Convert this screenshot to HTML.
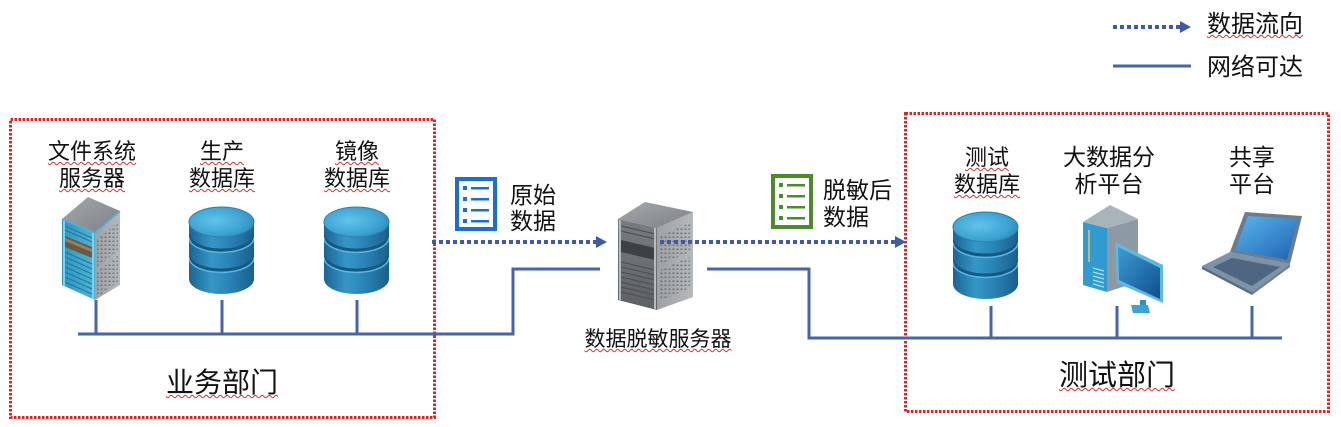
<!DOCTYPE html>
<html><head><meta charset="utf-8">
<style>
html,body{margin:0;padding:0;background:#fff;}
#wrap{position:relative;width:1341px;height:427px;overflow:hidden;background:#fff;}
svg{position:absolute;left:0;top:0;}
.t{position:absolute;font-family:"Liberation Sans","Noto Sans CJK SC",sans-serif;color:#111;white-space:nowrap;}
.c{text-align:center;width:200px;}
.w{text-decoration:underline wavy #d83030;text-decoration-thickness:1px;text-underline-offset:2px;}
</style></head><body>
<div id="wrap">
<svg width="1341" height="427" viewBox="0 0 1341 427" xmlns="http://www.w3.org/2000/svg">
<defs>
  <linearGradient id="dbBody" x1="0" x2="1" y1="0" y2="0">
    <stop offset="0" stop-color="#1b6596"/>
    <stop offset="0.35" stop-color="#3597c6"/>
    <stop offset="0.6" stop-color="#2a86b8"/>
    <stop offset="1" stop-color="#1a5f8e"/>
  </linearGradient>
  <radialGradient id="dbTop" cx="0.4" cy="0.45" r="0.7">
    <stop offset="0" stop-color="#62c4ec"/>
    <stop offset="0.7" stop-color="#3aa0d0"/>
    <stop offset="1" stop-color="#2780b2"/>
  </radialGradient>
  <linearGradient id="grayTop" x1="0" x2="1" y1="0" y2="1">
    <stop offset="0" stop-color="#a4a8ac"/>
    <stop offset="1" stop-color="#7e8286"/>
  </linearGradient>
  <linearGradient id="grayL" x1="0" x2="0" y1="0" y2="1">
    <stop offset="0" stop-color="#7a7d80"/>
    <stop offset="1" stop-color="#5e6164"/>
  </linearGradient>
  <linearGradient id="grayR" x1="0" x2="1" y1="0" y2="0">
    <stop offset="0" stop-color="#9ea1a4"/>
    <stop offset="1" stop-color="#b6b9bc"/>
  </linearGradient>
  <linearGradient id="teal" x1="0" x2="1" y1="0" y2="0">
    <stop offset="0" stop-color="#2f95bd"/>
    <stop offset="1" stop-color="#4fb4d6"/>
  </linearGradient>
  <linearGradient id="scr" x1="0" x2="1" y1="0" y2="1">
    <stop offset="0" stop-color="#5ab6ee"/>
    <stop offset="1" stop-color="#1d62b0"/>
  </linearGradient>
  <linearGradient id="mon" x1="0" x2="1" y1="0" y2="1">
    <stop offset="0" stop-color="#3f9bd2"/>
    <stop offset="1" stop-color="#0f4f8e"/>
  </linearGradient>
  <pattern id="grill" width="4" height="4" patternUnits="userSpaceOnUse">
    <rect width="4" height="4" fill="none"/>
    <rect x="0.5" y="0.5" width="2" height="1.6" fill="#5a5e62" opacity="0.7"/>
  </pattern>
  <clipPath id="dbclip"><path d="M189,222 L189,279 A32.5,15 0 0 0 254,279 L254,222 Z"/></clipPath>
</defs>

<!-- red dotted boxes -->
<rect x="10.5" y="119.5" width="424" height="298" fill="none" stroke="#e02424" stroke-width="3" stroke-dasharray="2.5 1.5"/>
<rect x="905.5" y="113.5" width="423" height="298" fill="none" stroke="#e02424" stroke-width="3" stroke-dasharray="2.5 1.5"/>

<!-- network lines -->
<g stroke="#4565a6" stroke-width="3" fill="none">
  <polyline points="78,334 513,334 513,269 600,269"/>
  <line x1="96" y1="300" x2="96" y2="334"/>
  <line x1="222" y1="300" x2="222" y2="334"/>
  <line x1="357" y1="300" x2="357" y2="334"/>
  <polyline points="707,269 809,269 809,338 1282,338"/>
  <line x1="991" y1="306" x2="991" y2="338"/>
  <line x1="1117" y1="306" x2="1117" y2="338"/>
  <line x1="1252" y1="306" x2="1252" y2="338"/>
  <line x1="1113" y1="66" x2="1191" y2="66"/>
</g>

<!-- doc icons -->
<g>
  <rect x="457" y="179" width="38" height="50" fill="#fff" stroke="#1a6ed8" stroke-width="4"/>
  <g fill="#1a6ed8">
    <rect x="463" y="186" width="4" height="4"/><rect x="471" y="187" width="18" height="2.5"/>
    <rect x="463" y="197" width="4" height="4"/><rect x="471" y="198" width="18" height="2.5"/>
    <rect x="463" y="208" width="4" height="4"/><rect x="471" y="209" width="18" height="2.5"/>
    <rect x="463" y="219" width="4" height="4"/><rect x="471" y="220" width="18" height="2.5"/>
  </g>
  <rect x="773" y="176" width="38" height="51" fill="#fff" stroke="#4c8a2c" stroke-width="4"/>
  <g fill="#4c8a2c">
    <rect x="779" y="183" width="4" height="4"/><rect x="787" y="184" width="18" height="2.5"/>
    <rect x="779" y="194" width="4" height="4"/><rect x="787" y="195" width="18" height="2.5"/>
    <rect x="779" y="205" width="4" height="4"/><rect x="787" y="206" width="18" height="2.5"/>
    <rect x="779" y="216" width="4" height="4"/><rect x="787" y="217" width="18" height="2.5"/>
  </g>
</g>

<!-- databases -->
<g id="db1">
  <path d="M189,222 L189,279 A32.5,15 0 0 0 254,279 L254,222 Z" fill="url(#dbBody)"/>
  <g clip-path="url(#dbclip)">
    <path d="M189,235 A32.5,15 0 0 0 254,235" fill="none" stroke="#165882" stroke-width="3"/>
    <path d="M189,237.5 A32.5,15 0 0 0 254,237.5" fill="none" stroke="#56b6de" stroke-width="1.5"/>
    <path d="M189,255 A32.5,15 0 0 0 254,255" fill="none" stroke="#165882" stroke-width="3"/>
    <path d="M189,257.5 A32.5,15 0 0 0 254,257.5" fill="none" stroke="#56b6de" stroke-width="1.5"/>
  </g>
  <ellipse cx="221.5" cy="222" rx="32.5" ry="15" fill="url(#dbTop)" stroke="#2a7fae" stroke-width="1"/>
</g>
<use href="#db1" x="135" y="0"/>
<use href="#db1" x="764" y="5"/>

<!-- file server (left) -->
<g>
  <polygon points="62,219 95,233 95,300 62,285" fill="url(#teal)"/>
  <g stroke="#1f7aa0" stroke-width="1.2">
    <line x1="65" y1="252" x2="92" y2="264"/><line x1="65" y1="257" x2="92" y2="269"/>
    <line x1="65" y1="262" x2="92" y2="274"/><line x1="65" y1="267" x2="92" y2="279"/>
    <line x1="65" y1="272" x2="92" y2="284"/><line x1="65" y1="277" x2="92" y2="289"/>
    <line x1="65" y1="282" x2="92" y2="294"/>
    <line x1="65" y1="226" x2="92" y2="238"/><line x1="65" y1="230" x2="92" y2="242"/>
  </g>
  <polygon points="65,236 92,247 92,258 65,247" fill="#6a5a42"/>
  <polygon points="65,238 92,249 92,252 65,241" fill="#a89474" opacity="0.7"/>
  <line x1="64" y1="220" x2="64" y2="286" stroke="#7fd0ee" stroke-width="2"/>
  <line x1="93" y1="233" x2="93" y2="299" stroke="#7fd0ee" stroke-width="2"/>
  <polygon points="95,233 120,211 120,285 95,300" fill="url(#grayR)"/>
  <polygon points="97,240 118,222 118,250 97,268" fill="url(#grill)"/>
  <polygon points="97,272 118,255 118,282 97,297" fill="url(#grill)"/>
  <polygon points="62,219 88,197 120,211 95,233" fill="url(#grayTop)"/>
  <polyline points="62,219 95,233 120,211" fill="none" stroke="#4fb4d6" stroke-width="1.5"/>
</g>

<!-- central server -->
<g>
  <polygon points="618,219 657,228 657,310 618,300" fill="url(#grayL)"/>
  <g stroke="#4f5256" stroke-width="1.2">
    <line x1="621" y1="226" x2="655" y2="234"/><line x1="621" y1="231" x2="655" y2="239"/>
    <line x1="621" y1="262" x2="655" y2="270"/><line x1="621" y1="267" x2="655" y2="275"/>
    <line x1="621" y1="272" x2="655" y2="280"/><line x1="621" y1="277" x2="655" y2="285"/>
    <line x1="621" y1="282" x2="655" y2="290"/><line x1="621" y1="287" x2="655" y2="295"/>
    <line x1="621" y1="292" x2="655" y2="300"/>
  </g>
  <polygon points="621,240 655,248 655,260 621,252" fill="#3e4144"/>
  <line x1="620" y1="220" x2="620" y2="300" stroke="#b9bcbf" stroke-width="2"/>
  <line x1="655" y1="228" x2="655" y2="309" stroke="#b9bcbf" stroke-width="2"/>
  <polygon points="657,228 693,212 693,297 657,310" fill="url(#grayR)"/>
  <polygon points="660,236 690,223 690,252 660,265" fill="url(#grill)"/>
  <polygon points="660,270 690,257 690,288 660,301" fill="url(#grill)"/>
  <polygon points="618,219 645,202 693,212 657,228" fill="url(#grayTop)"/>
</g>

<!-- dotted arrows (drawn on top of server) -->
<g stroke="#3d5ca2" stroke-width="4" stroke-dasharray="4 3" fill="none">
  <line x1="432" y1="242" x2="597" y2="242"/>
  <line x1="660" y1="242" x2="895" y2="242"/>
  <line x1="1113" y1="27" x2="1180" y2="27"/>
</g>
<g fill="#3d5ca2">
  <polygon points="596,236 607,242 596,248"/>
  <polygon points="895,236 906,242 895,248"/>
  <polygon points="1180,21 1191,27 1180,33"/>
</g>

<!-- big data computer -->
<g>
  <polygon points="1083,222 1107,228 1107,292 1083,285" fill="#2f9bd0"/>
  <line x1="1089" y1="230" x2="1089" y2="262" stroke="#c9b778" stroke-width="2"/>
  <g stroke="#aee0f4" stroke-width="1.2">
    <line x1="1093" y1="268" x2="1104" y2="271"/><line x1="1093" y1="272" x2="1104" y2="275"/>
    <line x1="1093" y1="276" x2="1104" y2="279"/><line x1="1093" y1="280" x2="1104" y2="283"/>
    <line x1="1093" y1="284" x2="1104" y2="287"/>
  </g>
  <polygon points="1107,228 1138,219 1138,282 1107,292" fill="#8d9aa4"/>
  <polygon points="1083,222 1110,205 1138,219 1107,228" fill="#a9b3ba"/>
  <polygon points="1140,300 1146,300 1146,309 1140,309" fill="#2d8fc6"/>
  <polygon points="1131,305 1148,305 1150,313 1133,313" fill="#3aa2d6"/>
  <polygon points="1115,242 1163,265 1163,303 1117,283" fill="#5fb8e0"/>
  <polygon points="1118,247 1160,268 1160,299 1119,280" fill="url(#mon)"/>
</g>

<!-- laptop -->
<g>
  <polygon points="1230,252 1290,264 1252,292 1202,266" fill="#7d93a8"/>
  <polygon points="1232,258 1280,267 1252,286 1213,267" fill="#4f6680"/>
  <polygon points="1202,266 1252,292 1252,295 1202,269" fill="#5a6f84"/>
  <polygon points="1252,292 1290,264 1290,267 1252,295" fill="#6a7f94"/>
  <polygon points="1245,212 1302,216 1290,264 1230,252" fill="#6c7c8c"/>
  <polygon points="1248,216 1298,219 1287,260 1235,250" fill="url(#scr)"/>
</g>
</svg>

<!-- labels -->
<div class="t c" style="left:-8px;top:138px;font-size:22px;line-height:27px;"><span class="w">文件系统</span><br><span class="w">服务器</span></div>
<div class="t c" style="left:122px;top:138px;font-size:22px;line-height:27px;"><span class="w">生产</span><br><span class="w">数据库</span></div>
<div class="t c" style="left:257px;top:138px;font-size:22px;line-height:27px;"><span class="w">镜像</span><br><span class="w">数据库</span></div>
<div class="t c" style="left:122px;top:366px;font-size:28px;line-height:34px;"><span class="w">业务部门</span></div>

<div class="t" style="left:510px;top:182px;font-size:23px;line-height:26px;">原始<br>数据</div>
<div class="t" style="left:823px;top:177px;font-size:23px;line-height:27px;">脱敏后<br>数据</div>
<div class="t c" style="left:558px;top:327px;font-size:21px;line-height:26px;"><span class="w">数据脱敏服务器</span></div>

<div class="t c" style="left:887px;top:144px;font-size:22px;line-height:27px;"><span class="w">测试</span><br><span class="w">数据库</span></div>
<div class="t c" style="left:1009px;top:144px;font-size:23px;line-height:27px;">大数据分<br>析平台</div>
<div class="t c" style="left:1152px;top:144px;font-size:23px;line-height:27px;">共享<br>平台</div>
<div class="t c" style="left:1017px;top:359px;font-size:29px;line-height:34px;"><span class="w">测试部门</span></div>

<div class="t" style="left:1207px;top:11px;font-size:24px;line-height:28px;"><span class="w">数据流向</span></div>
<div class="t" style="left:1207px;top:54px;font-size:24px;line-height:28px;">网络可达</div>
</div>
</body></html>
